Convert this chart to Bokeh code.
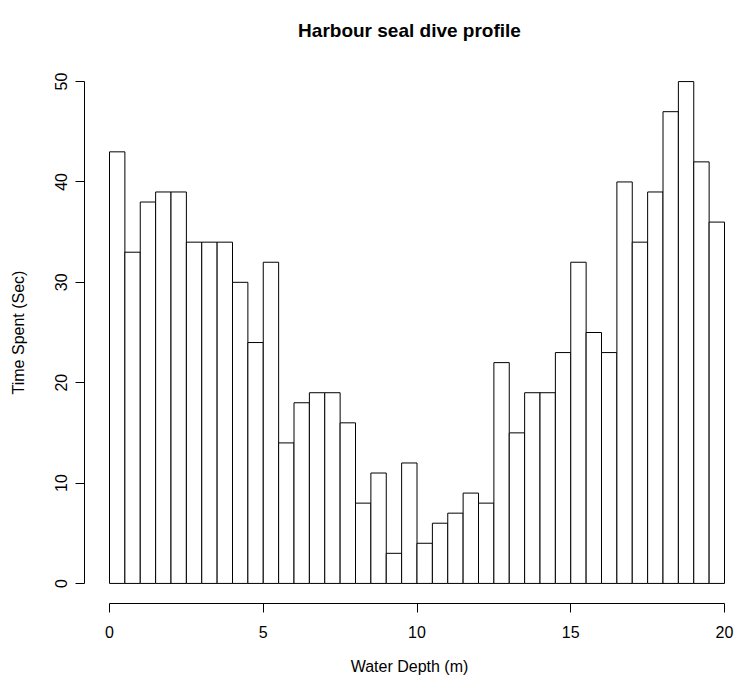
from bokeh.plotting import figure
from bokeh.models import FixedTicker, Range1d
from bokeh.embed import file_html
from bokeh.resources import INLINE

# Data: 40 depth bins of 0.5 m, 0 to 20 m
bin_left = [i * 0.5 for i in range(40)]
bin_right = [b + 0.5 for b in bin_left]
time_spent = [43, 33, 38, 39, 39, 34, 34, 34, 30, 24,
              32, 14, 18, 19, 19, 16, 8, 11, 3, 12,
              4, 6, 7, 9, 8, 22, 15, 19, 19, 23,
              32, 25, 23, 40, 34, 39, 47, 50, 42, 36]
x_ticks = [0, 5, 10, 15, 20]
y_ticks = [0, 10, 20, 30, 40, 50]

title_text = "Harbour seal dive profile"
x_label = "Water Depth (m)"
y_label = "Time Spent (Sec)"

FONT = "Liberation Sans"

p = figure(width=734, height=677, output_backend="svg", toolbar_location=None,
           x_range=Range1d(-0.813, 20.325), y_range=Range1d(-2.0, 52.0),
           min_border_left=84, min_border_right=0, min_border_top=61,
           min_border_bottom=74, title=title_text)

p.title.text_font = FONT
p.title.text_font_size = "19px"
p.title.text_font_style = "bold"
p.title.align = "center"
p.title.vertical_align = "top"
p.title.text_color = "black"
p.title.standoff = 37

p.outline_line_color = None
p.background_fill_color = "white"
p.border_fill_color = "white"
p.grid.visible = False

p.quad(left=bin_left, right=bin_right, bottom=0, top=time_spent,
       fill_color="white", line_color="black", line_width=1)

# x axis
xa = p.xaxis[0]
xa.ticker = FixedTicker(ticks=x_ticks)
xa.bounds = (0, 20)
xa.major_tick_out = 9
xa.major_tick_in = 0
xa.minor_tick_line_color = None
xa.major_label_standoff = 13
xa.major_label_text_font = FONT
xa.major_label_text_font_size = "16px"
xa.major_label_text_color = "black"
xa.axis_line_color = "black"
xa.major_tick_line_color = "black"
xa.axis_label = x_label
xa.axis_label_text_font = FONT
xa.axis_label_text_font_size = "16px"
xa.axis_label_text_font_style = "normal"
xa.axis_label_text_color = "black"
xa.axis_label_standoff = 17

# y axis
ya = p.yaxis[0]
ya.ticker = FixedTicker(ticks=y_ticks)
ya.bounds = (0, 50)
ya.major_tick_out = 9
ya.major_tick_in = 0
ya.minor_tick_line_color = None
ya.major_label_orientation = "vertical"
ya.major_label_standoff = 8
ya.major_label_text_font = FONT
ya.major_label_text_font_size = "16px"
ya.major_label_text_color = "black"
ya.axis_line_color = "black"
ya.major_tick_line_color = "black"
ya.axis_label = y_label
ya.axis_label_text_font = FONT
ya.axis_label_text_font_size = "16px"
ya.axis_label_text_font_style = "normal"
ya.axis_label_text_color = "black"
ya.axis_label_standoff = 26

open("out.html", "w").write(file_html(p, INLINE))
